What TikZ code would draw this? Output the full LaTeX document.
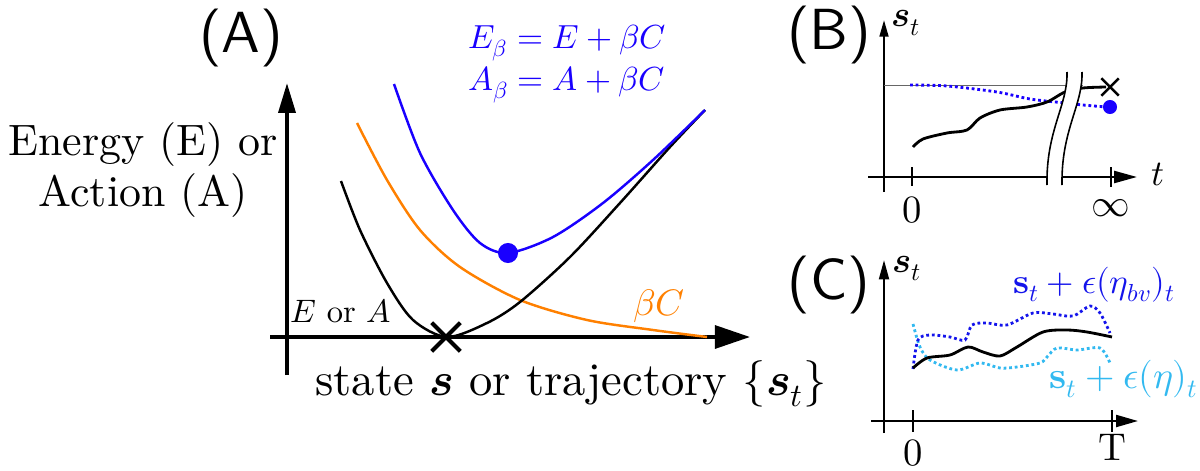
\documentclass[tikz,border=0pt]{standalone}
\usepackage{amsmath}
\usepackage{fontspec}
\usepackage{unicode-math}
\setmainfont{lmroman10-regular.otf}[ItalicFont=lmroman10-italic.otf, BoldFont=lmroman10-bold.otf, BoldItalicFont=lmroman10-bolditalic.otf]
\setsansfont{lmsans10-regular.otf}
\setmathfont{Latin Modern Math}
\usetikzlibrary{arrows.meta,shapes.misc}

\definecolor{betablue}{RGB}{25,0,255}
\definecolor{costorange}{RGB}{255,128,0}
\definecolor{noiseblue}{RGB}{50,185,240}
\definecolor{biasblue}{RGB}{20,20,235}

\begin{document}
\begin{tikzpicture}[x=0.02cm, y=-0.02cm,
    panel/.style={font=\fontsize{33}{33}\selectfont\sffamily, inner sep=0pt, anchor=base},
    txt/.style={font=\fontsize{25}{29.5}\selectfont, inner sep=0pt},
    small/.style={font=\fontsize{18.5}{18.5}\selectfont, inner sep=0pt},
    eqlbl/.style={font=\fontsize{19}{19}\selectfont, text=betablue, inner sep=0pt, anchor=base west},
    ticklbl/.style={font=\fontsize{22}{22}\selectfont, inner sep=0pt, anchor=base},
    varlbl/.style={font=\fontsize{20.5}{20.5}\selectfont, inner sep=0pt},
    pertlbl/.style={font=\fontsize{20}{20}\selectfont, inner sep=0pt, anchor=base west},
    bigaxis/.style={line width=2.2pt},
    axis/.style={line width=1.3pt},
    curve/.style={line width=1.4pt},
    traj/.style={line width=1.6pt},
    dots/.style={line width=1.6pt, dash pattern=on 1.6pt off 1.6pt},
    cutline/.style={line width=0.9pt}
]
\useasboundingbox (0,0) rectangle (1200,470);

% (A)
\node[panel] (labA) at (241,52) {(A)};
\node[txt, align=center] (ylabA) at (143,170) {Energy (E) or\\Action (A)};
\node[txt, font=\fontsize{26.5}{26.5}\selectfont, anchor=base west] (xlabA) at (315,395) {state $\symbfit{s}$ or trajectory $\{\symbfit{s}_t\}$};
\node[eqlbl] (eqE) at (468,48) {$E_\beta = E + \beta C$};
\node[eqlbl] (eqA) at (468,90) {$A_\beta = A + \beta C$};

\draw[bigaxis, -{Triangle[length=17pt,width=9.6pt]}] (287,375) -- (287,83);
\draw[bigaxis, -{Triangle[length=20pt,width=13pt]}] (270,337) -- (750,337);

\draw[curve, costorange] plot[smooth] coordinates {(357,123) (387,180) (420,230) (460,267) (520,300) (587,320) (653,330) (707,337)};
\draw[curve] plot[smooth] coordinates {(341,181) (360,230) (387,283) (413,320) (447,337) (487,323) (520,302) (570,257) (620,203) (670,147) (705,110)};
\draw[curve, betablue] plot[smooth] coordinates {(394,84) (420,153) (453,210) (480,243) (508,253) (553,237) (603,203) (653,160) (705,110)};

\node[circle, fill=betablue, inner sep=0pt, minimum size=11.4pt] (minEb) at (508,253) {};
\node[draw, cross out, line width=2.3pt, inner sep=0pt, minimum size=14pt] (minE) at (446,337) {};
\node[small, anchor=base west] (curveE) at (290,322) {$E$ or $A$};
\node[txt, font=\fontsize{21}{21}\selectfont, anchor=base west, text=costorange] (curveC) at (633,315) {$\beta C$};

% (B)
\node[panel] (labB) at (829,50) {(B)};
\draw[axis, -{Triangle[length=9.5pt,width=5pt]}] (884,192) -- (884,20);
\draw[axis, -{Triangle[length=13pt,width=6.8pt]}] (868,177) -- (1137,177);
\draw[axis] (912,167) -- (912,186);
\draw[axis] (1111,167) -- (1111,187);
\draw[line width=0.5pt, black!60] (884,85) -- (1083,85);
\draw[dots, betablue] plot[smooth] coordinates {(910,85) (947,86) (997,92) (1030,99) (1065,103) (1083,105) (1106,107)};
\draw[traj] plot[smooth] coordinates {(913,147) (923,139) (947,133) (967,130) (980,118) (1000,110) (1027,107) (1047,102) (1065,92) (1083,88) (1106,87)};
\node[circle, fill=betablue, inner sep=0pt, minimum size=8pt] (endB) at (1110,107) {};
\node[draw, cross out, line width=1.4pt, inner sep=0pt, minimum size=8.5pt] (fixB) at (1110,87) {};
\fill[white] (1067,72) .. controls (1068,105) and (1046,130) .. (1047,185) -- (1062,185) .. controls (1061,130) and (1083,105) .. (1082,72) -- cycle;
\draw[cutline] (1067,72) .. controls (1068,105) and (1046,130) .. (1047,185);
\draw[cutline] (1082,72) .. controls (1083,105) and (1061,130) .. (1062,185);
\node[varlbl, anchor=base west] (sB) at (891,27) {$\symbfit{s}_t$};
\node[varlbl, anchor=base] (tB) at (1158,185) {$t$};
\node[ticklbl] (zeroB) at (912,222) {$0$};
\node[ticklbl] (infB) at (1111,216) {$\infty$};

% (C)
\node[panel] (labC) at (829,299) {(C)};
\draw[axis, -{Triangle[length=11pt,width=5.6pt]}] (884,433) -- (884,260);
\draw[axis, -{Triangle[length=12.5pt,width=6.8pt]}] (871,421) -- (1138,421);
\draw[axis] (913,410) -- (913,432);
\draw[axis] (1112,410) -- (1112,432);
\draw[dots, noiseblue] plot[smooth] coordinates {(913,324) (920,347) (930,360) (957,370) (980,363) (1000,368) (1017,367) (1040,363) (1047,357) (1057,348) (1077,350) (1100,348) (1110,363)};
\draw[dots, biasblue] plot[smooth] coordinates {(913,369) (918,340) (930,335) (950,337) (965,340) (972,325) (987,323) (1007,325) (1033,313) (1053,314) (1073,316) (1090,306) (1100,313) (1110,333)};
\draw[traj] plot[smooth] coordinates {(913,368) (927,358) (950,355) (968,347) (983,352) (1000,356) (1017,347) (1043,332) (1067,330) (1087,332) (1112,337)};
\node[varlbl, anchor=base west] (sC) at (892,272) {$\symbfit{s}_t$};
\node[ticklbl] (zeroC) at (913,465) {$0$};
\node[ticklbl] (endC) at (1112,460) {T};
\node[pertlbl, text=biasblue] (pertbv) at (1013,293) {$\symbfup{s}_t + \epsilon(\eta_{bv})_t$};
\node[pertlbl, font=\fontsize{21.5}{21.5}\selectfont, text=noiseblue] (pertn) at (1049,388) {$\symbfup{s}_t + \epsilon(\eta)_t$};
\end{tikzpicture}
\end{document}
